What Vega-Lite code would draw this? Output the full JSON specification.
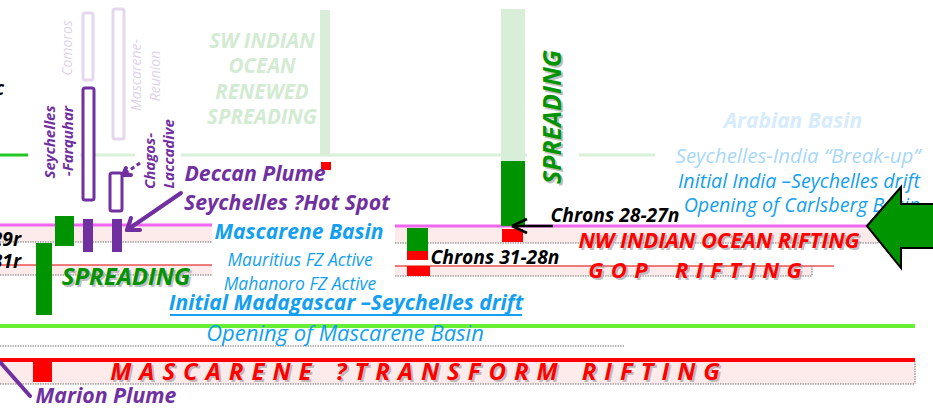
{
  "$schema": "https://vega.github.io/schema/vega-lite/v6.json",
  "width": 933,
  "height": 411,
  "padding": 0,
  "autosize": "none",
  "config": {"view": {"stroke": null}},
  "datasets": {
    "bands": [
      {"x": 0, "x2": 212, "y": 226, "y2": 242},
      {"x": 0, "x2": 212, "y": 265, "y2": 275},
      {"x": 395, "x2": 878, "y": 227, "y2": 243},
      {"x": 395, "x2": 812, "y": 266, "y2": 276},
      {"x": 0, "x2": 915, "y": 361, "y2": 384}
    ],
    "dots": [
      {"x": 0, "x2": 212, "y": 242, "y2": 242},
      {"x": 0, "x2": 212, "y": 275, "y2": 275},
      {"x": 395, "x2": 878, "y": 243, "y2": 243},
      {"x": 878, "x2": 878, "y": 227, "y2": 243},
      {"x": 395, "x2": 812, "y": 276, "y2": 276},
      {"x": 812, "x2": 812, "y": 266, "y2": 276},
      {"x": 0, "x2": 625, "y": 346, "y2": 346},
      {"x": 0, "x2": 915, "y": 384, "y2": 384},
      {"x": 915, "x2": 915, "y": 361, "y2": 384}
    ],
    "bars": [
      {"x": 320, "x2": 330, "y": 10, "y2": 155, "kind": "faded"},
      {"x": 501, "x2": 525, "y": 9, "y2": 161, "kind": "faded"},
      {"x": 36, "x2": 52, "y": 243, "y2": 315, "kind": "green"},
      {"x": 55, "x2": 74, "y": 216, "y2": 246, "kind": "green"},
      {"x": 407, "x2": 428, "y": 228, "y2": 251, "kind": "green"},
      {"x": 501, "x2": 525, "y": 161, "y2": 226, "kind": "green"},
      {"x": 407, "x2": 428, "y": 251, "y2": 260, "kind": "red"},
      {"x": 407, "x2": 430, "y": 266, "y2": 276, "kind": "red"},
      {"x": 502, "x2": 523, "y": 229, "y2": 242, "kind": "red"},
      {"x": 321, "x2": 331, "y": 162, "y2": 170, "kind": "red"},
      {"x": 33, "x2": 52, "y": 362, "y2": 382, "kind": "red"},
      {"x": 83, "x2": 93, "y": 219, "y2": 252, "kind": "purple"},
      {"x": 112, "x2": 122, "y": 219, "y2": 252, "kind": "purple"}
    ],
    "outlines": [
      {"x": 83, "x2": 93, "y": 13, "y2": 80, "kind": "light"},
      {"x": 113, "x2": 124, "y": 9, "y2": 139, "kind": "light"},
      {"x": 83, "x2": 94, "y": 88, "y2": 200, "kind": "dark"},
      {"x": 110, "x2": 122, "y": 173, "y2": 211, "kind": "dark"}
    ],
    "fadedLines": [
      {"x": 80, "x2": 135, "y": 155},
      {"x": 181, "x2": 527, "y": 155},
      {"x": 579, "x2": 655, "y": 155}
    ],
    "arrowLines": [
      {"x": 181, "y": 193, "x2": 127, "y2": 230},
      {"x": 127, "y": 230, "x2": 140, "y2": 230},
      {"x": 127, "y": 230, "x2": 131, "y2": 218},
      {"x": 123, "y": 175, "x2": 131, "y2": 175},
      {"x": 123, "y": 175, "x2": 126, "y2": 168},
      {"x": 0, "y": 362, "x2": 30, "y2": 396}
    ],
    "bigArrow": [
      {"x": 900, "y": 227.5}
    ],
    "redText": [
      {"t": "NW INDIAN OCEAN RIFTING", "x": 719, "y": 241}
    ],
    "gopText": [
      {"t": "G\u2004O\u2004P\u2003\u2005R\u2004I\u2004F\u2004T\u2004I\u2004N\u2004G", "x": 695, "y": 271}
    ],
    "mascText": [
      {"t": "M\u2004A\u2004S\u2004C\u2004A\u2004R\u2004E\u2004N\u2004E\u2003?\u2004T\u2004R\u2004A\u2004N\u2004S\u2004F\u2004O\u2004R\u2004M\u2003R\u2004I\u2004F\u2004T\u2004I\u2004N\u2004G", "x": 415, "y": 373}
    ]
  },
  "encoding": {
    "x": {"field": "x", "type": "quantitative", "scale": {"domain": [0, 933], "nice": false, "zero": false}, "axis": null},
    "y": {"field": "y", "type": "quantitative", "scale": {"domain": [0, 411], "nice": false, "zero": false, "reverse": true}, "axis": null}
  },
  "layer": [
    {"data": {"name": "bands"}, "mark": {"type": "rect", "fill": "#fdeaea"},
     "encoding": {"x2": {"field": "x2"}, "y2": {"field": "y2"}}},
    {"data": {"name": "fadedLines"}, "mark": {"type": "rule", "stroke": "#d9f0d9", "strokeWidth": 3},
     "encoding": {"x2": {"field": "x2"}}},
    {"data": {"values": [{"x": 0, "x2": 28, "y": 155}]}, "mark": {"type": "rule", "stroke": "#22c822", "strokeWidth": 3},
     "encoding": {"x2": {"field": "x2"}}},
    {"data": {"values": [{"x": 0, "x2": 212, "y": 225}, {"x": 395, "x2": 868, "y": 226}]}, "mark": {"type": "rule", "stroke": "#f066f0", "strokeWidth": 3},
     "encoding": {"x2": {"field": "x2"}}},
    {"data": {"values": [{"x": 0, "x2": 212, "y": 265}, {"x": 395, "x2": 834, "y": 266}]}, "mark": {"type": "rule", "stroke": "#e00000", "strokeWidth": 1.2},
     "encoding": {"x2": {"field": "x2"}}},
    {"data": {"values": [{"x": 0, "x2": 915, "y": 326}]}, "mark": {"type": "rule", "stroke": "#66f033", "strokeWidth": 4},
     "encoding": {"x2": {"field": "x2"}}},
    {"data": {"values": [{"x": 0, "x2": 915, "y": 360}]}, "mark": {"type": "rule", "stroke": "#ff0000", "strokeWidth": 4},
     "encoding": {"x2": {"field": "x2"}}},
    {"data": {"name": "dots"}, "mark": {"type": "rule", "stroke": "#777777", "strokeWidth": 1, "strokeDash": [1.5, 1]},
     "encoding": {"x2": {"field": "x2"}, "y2": {"field": "y2"}}},
    {"data": {"name": "outlines"}, "mark": {"type": "rect", "fill": "white", "strokeWidth": 3, "cornerRadius": 2},
     "encoding": {"x2": {"field": "x2"}, "y2": {"field": "y2"},
       "stroke": {"field": "kind", "type": "nominal", "scale": {"domain": ["light", "dark"], "range": ["#e4d7ee", "#7030a0"]}, "legend": null}}},
    {"data": {"name": "bars"}, "mark": {"type": "rect"},
     "encoding": {"x2": {"field": "x2"}, "y2": {"field": "y2"},
       "fill": {"field": "kind", "type": "nominal", "scale": {"domain": ["faded", "green", "red", "purple"], "range": ["#d8eed8", "#009400", "#ff0000", "#7030a0"]}, "legend": null}}},
    {"data": {"values": [{"t": "SW INDIAN", "x": 262, "y": 42}, {"t": "OCEAN", "x": 262, "y": 67}, {"t": "RENEWED", "x": 262, "y": 93}, {"t": "SPREADING", "x": 262, "y": 118}]},
     "mark": {"type": "text", "font": "Open Sans", "fontSize": 20.5, "fontWeight": "bold", "fontStyle": "italic", "color": "#d2ebd2", "baseline": "middle", "align": "center"},
     "encoding": {"text": {"field": "t"}}},
    {"data": {"values": [{"t": "Comoros", "x": 68, "y": 48}, {"t": "Mascarene-", "x": 137, "y": 75}, {"t": "Reunion", "x": 156, "y": 76}]},
     "mark": {"type": "text", "font": "Open Sans", "fontSize": 14, "fontStyle": "italic", "color": "#e0d2eb", "baseline": "middle", "align": "center", "angle": 270},
     "encoding": {"text": {"field": "t"}}},
    {"data": {"values": [{"t": "Seychelles", "x": 50, "y": 142}, {"t": "-Farquhar", "x": 68, "y": 141}, {"t": "Chagos-", "x": 150, "y": 161}, {"t": "Laccadive", "x": 169, "y": 154}]},
     "mark": {"type": "text", "font": "Open Sans", "fontSize": 15, "fontWeight": "bold", "fontStyle": "italic", "color": "#7030a0", "baseline": "middle", "align": "center", "angle": 270},
     "encoding": {"text": {"field": "t"}}},
    {"data": {"values": [{"t": "Deccan Plume", "x": 255, "y": 175}, {"t": "Seychelles ?Hot Spot", "x": 287, "y": 204}, {"t": "Marion Plume", "x": 106, "y": 397}]},
     "mark": {"type": "text", "font": "Open Sans", "fontSize": 21.3, "fontWeight": "bold", "fontStyle": "italic", "color": "#7030a0", "baseline": "middle", "align": "center"},
     "encoding": {"text": {"field": "t"}}},
    {"data": {"values": [{"t": "Mascarene Basin", "x": 299, "y": 233}, {"t": "Initial Madagascar –Seychelles drift", "x": 346, "y": 304}]},
     "mark": {"type": "text", "font": "Open Sans", "fontSize": 21.1, "fontWeight": "bold", "fontStyle": "italic", "color": "#149ff0", "baseline": "middle", "align": "center"},
     "encoding": {"text": {"field": "t"}}},
    {"data": {"values": [{"x": 170, "x2": 522, "y": 315}]}, "mark": {"type": "rule", "stroke": "#149ff0", "strokeWidth": 2},
     "encoding": {"x2": {"field": "x2"}}},
    {"data": {"values": [{"t": "Mauritius FZ Active", "x": 300, "y": 261}, {"t": "Mahanoro FZ Active", "x": 300, "y": 285}]},
     "mark": {"type": "text", "font": "Open Sans", "fontSize": 17.5, "fontStyle": "italic", "color": "#149ff0", "baseline": "middle", "align": "center"},
     "encoding": {"text": {"field": "t"}}},
    {"data": {"values": [{"t": "Opening of Mascarene Basin", "x": 345, "y": 334}]},
     "mark": {"type": "text", "font": "Open Sans", "fontSize": 22, "fontStyle": "italic", "color": "#149ff0", "baseline": "middle", "align": "center"},
     "encoding": {"text": {"field": "t"}}},
    {"data": {"values": [{"t": "Initial India –Seychelles drift", "x": 799, "y": 182}, {"t": "Opening of Carlsberg Basin", "x": 802, "y": 206}]},
     "mark": {"type": "text", "font": "Open Sans", "fontSize": 19.7, "fontStyle": "italic", "color": "#149ff0", "baseline": "middle", "align": "center"},
     "encoding": {"text": {"field": "t"}}},
    {"data": {"values": [{"t": "Seychelles-India “Break-up”", "x": 798, "y": 157}]},
     "mark": {"type": "text", "font": "Open Sans", "fontSize": 20.5, "fontStyle": "italic", "color": "#a8d8f8", "baseline": "middle", "align": "center"},
     "encoding": {"text": {"field": "t"}}},
    {"data": {"values": [{"t": "Arabian Basin", "x": 793, "y": 122}]},
     "mark": {"type": "text", "font": "Open Sans", "fontSize": 21, "fontWeight": "bold", "fontStyle": "italic", "color": "#d6ecfc", "baseline": "middle", "align": "center"},
     "encoding": {"text": {"field": "t"}}},
    {"data": {"values": [{"t": "SPREADING", "x": 126, "y": 278}]},
     "mark": {"type": "text", "font": "Open Sans", "fontSize": 24, "fontWeight": "bold", "fontStyle": "italic", "color": "#999999", "opacity": 0.6, "dx": 2, "dy": 2, "baseline": "middle", "align": "center"},
     "encoding": {"text": {"field": "t"}}},
    {"data": {"values": [{"t": "SPREADING", "x": 126, "y": 278}]},
     "mark": {"type": "text", "font": "Open Sans", "fontSize": 24, "fontWeight": "bold", "fontStyle": "italic", "color": "#009400", "baseline": "middle", "align": "center"},
     "encoding": {"text": {"field": "t"}}},
    {"data": {"values": [{"t": "SPREADING", "x": 555, "y": 119}]},
     "mark": {"type": "text", "font": "Open Sans", "fontSize": 25, "fontWeight": "bold", "fontStyle": "italic", "color": "#999999", "opacity": 0.6, "angle": 270, "baseline": "middle", "align": "center"},
     "encoding": {"text": {"field": "t"}}},
    {"data": {"values": [{"t": "SPREADING", "x": 553, "y": 117}]},
     "mark": {"type": "text", "font": "Open Sans", "fontSize": 25, "fontWeight": "bold", "fontStyle": "italic", "color": "#009400", "angle": 270, "baseline": "middle", "align": "center"},
     "encoding": {"text": {"field": "t"}}},
    {"data": {"name": "redText"},
     "mark": {"type": "text", "font": "Open Sans", "fontSize": 21.8, "fontWeight": "bold", "fontStyle": "italic", "color": "#999999", "opacity": 0.6, "dx": 2, "dy": 2, "baseline": "middle", "align": "center"},
     "encoding": {"text": {"field": "t"}}},
    {"data": {"name": "redText"},
     "mark": {"type": "text", "font": "Open Sans", "fontSize": 21.8, "fontWeight": "bold", "fontStyle": "italic", "color": "#ff0000", "baseline": "middle", "align": "center"},
     "encoding": {"text": {"field": "t"}}},
    {"data": {"name": "gopText"},
     "mark": {"type": "text", "font": "Open Sans", "fontSize": 22, "fontWeight": "bold", "fontStyle": "italic", "color": "#999999", "opacity": 0.6, "dx": 2, "dy": 2, "baseline": "middle", "align": "center"},
     "encoding": {"text": {"field": "t"}}},
    {"data": {"name": "gopText"},
     "mark": {"type": "text", "font": "Open Sans", "fontSize": 22, "fontWeight": "bold", "fontStyle": "italic", "color": "#ff0000", "baseline": "middle", "align": "center"},
     "encoding": {"text": {"field": "t"}}},
    {"data": {"name": "mascText"},
     "mark": {"type": "text", "font": "Open Sans", "fontSize": 24, "fontWeight": "bold", "fontStyle": "italic", "color": "#999999", "opacity": 0.6, "dx": 2, "dy": 2, "baseline": "middle", "align": "center"},
     "encoding": {"text": {"field": "t"}}},
    {"data": {"name": "mascText"},
     "mark": {"type": "text", "font": "Open Sans", "fontSize": 24, "fontWeight": "bold", "fontStyle": "italic", "color": "#ff0000", "baseline": "middle", "align": "center"},
     "encoding": {"text": {"field": "t"}}},
    {"data": {"values": [{"t": "Chrons 28-27n", "x": 615, "y": 216}, {"t": "Chrons 31-28n", "x": 495, "y": 258}]},
     "mark": {"type": "text", "font": "Open Sans", "fontSize": 19.3, "fontWeight": "bold", "fontStyle": "italic", "color": "#000000", "baseline": "middle", "align": "center"},
     "encoding": {"text": {"field": "t"}}},
    {"data": {"values": [{"t": "29r", "x": 21, "y": 240}, {"t": "31r", "x": 21, "y": 262}, {"t": "c", "x": 4, "y": 89}]},
     "mark": {"type": "text", "font": "Open Sans", "fontSize": 19.3, "fontWeight": "bold", "fontStyle": "italic", "color": "#000000", "baseline": "middle", "align": "right"},
     "encoding": {"text": {"field": "t"}}},
    {"data": {"name": "arrowLines"}, "mark": {"type": "rule", "stroke": "#7030a0", "strokeWidth": 4, "strokeCap": "round"},
     "encoding": {"x2": {"field": "x2"}, "y2": {"field": "y2"}}},
    {"data": {"values": [{"x": 140, "y": 163, "x2": 124, "y2": 174}]}, "mark": {"type": "rule", "stroke": "#7030a0", "strokeWidth": 3, "strokeDash": [4, 3]},
     "encoding": {"x2": {"field": "x2"}, "y2": {"field": "y2"}}},
    {"data": {"values": [{"x": 553, "y": 226, "x2": 513, "y2": 226}, {"x": 512, "y": 226, "x2": 527, "y2": 219}, {"x": 512, "y": 226, "x2": 527, "y2": 233}]},
     "mark": {"type": "rule", "stroke": "#000000", "strokeWidth": 2.5},
     "encoding": {"x2": {"field": "x2"}, "y2": {"field": "y2"}}},
    {"data": {"name": "bigArrow"}, "mark": {"type": "point", "filled": true, "fill": "#009400", "fillOpacity": 1, "opacity": 1, "stroke": "#000000", "strokeWidth": 2, "size": 6724,
       "shape": "M-0.805,-0.037 L0.024,-0.988 L0.024,-0.573 L1,-0.573 L1,0.5 L0.024,0.5 L0.024,0.988 Z"},
     "encoding": {}}
  ]
}
